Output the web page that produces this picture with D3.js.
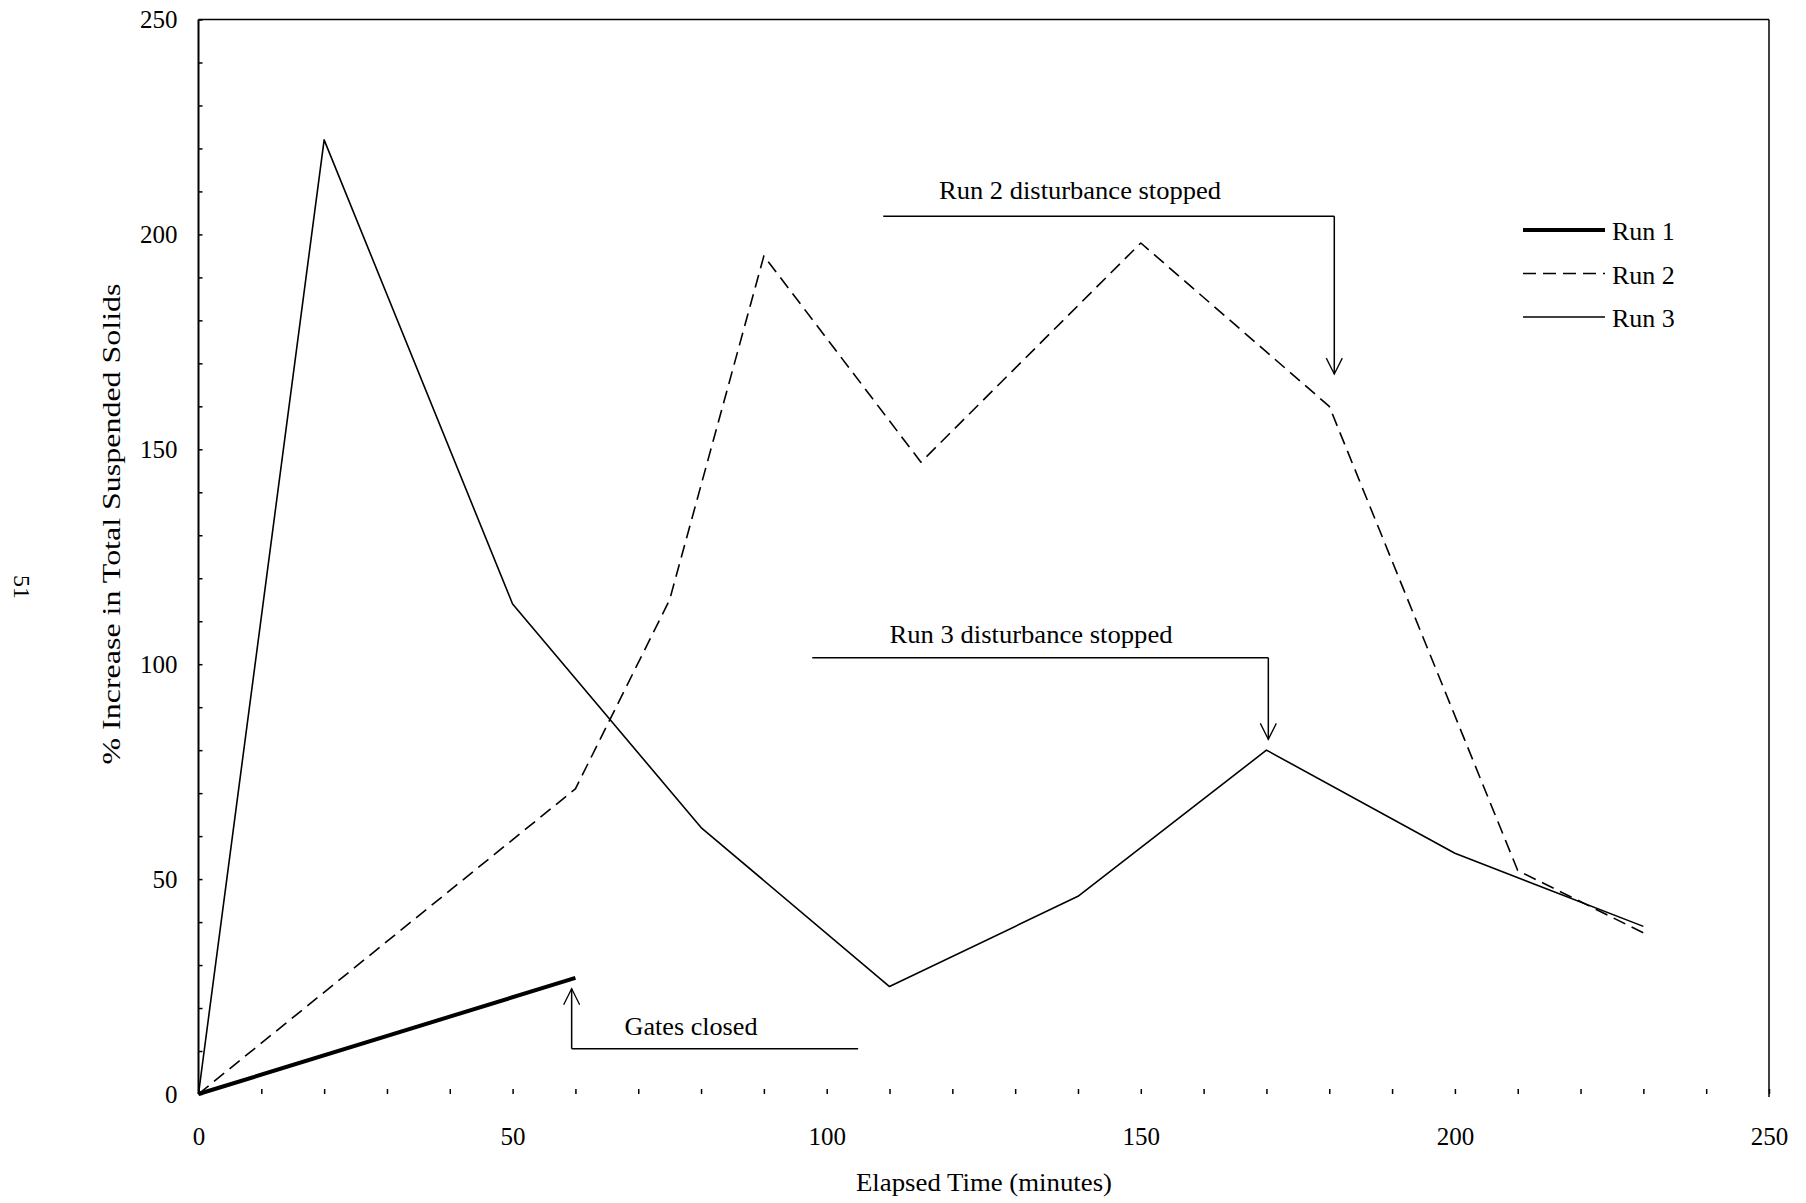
<!DOCTYPE html>
<html>
<head>
<meta charset="utf-8">
<script src="https://cdn.jsdelivr.net/npm/d3@7"></script>
<style>
  body { margin: 0; background: #fff; }
  svg text { font-family: "Liberation Serif", "Times New Roman", serif; fill: #000; }
</style>
</head>
<body>
<svg id="chart"></svg>
<script>
// Elapsed time (minutes) and % increase in TSS
const run1Time = [0, 60]
const run1Pct = [0, 27]

const run2Time = [0, 60, 75, 90, 115, 150, 180, 210, 230]
const run2Pct = [0, 71, 115, 195, 147, 198, 160, 52, 37.5]

const run3Time = [0, 20, 50, 80, 110, 140, 170, 200, 230]
const run3Pct = [0, 222, 114, 62, 25, 46, 80, 56, 39]

const seriesNames = ["Run 1", "Run 2", "Run 3"]
const xTickLabels = [0, 50, 100, 150, 200, 250]
const yTickLabels = [0, 50, 100, 150, 200, 250]

const width = 1806
const height = 1203

const svg = d3.select('#chart')
    .attr('width', width)
    .attr('height', height)

const x = d3.scaleLinear().domain([0, 250]).range([198.5, 1769])
const y = d3.scaleLinear().domain([0, 250]).range([1094, 19.5])

// frame: left, top, right (bottom line is not visible in the scan)
svg.append('line')
    .attr('x1', x(0)).attr('x2', x(0)).attr('y1', y(250)).attr('y2', y(0))
    .attr('stroke', '#000').attr('stroke-width', 2)
svg.append('line')
    .attr('x1', x(0)).attr('x2', x(250)).attr('y1', y(250)).attr('y2', y(250))
    .attr('stroke', '#000').attr('stroke-width', 1.5)
svg.append('line')
    .attr('x1', x(250)).attr('x2', x(250)).attr('y1', y(250)).attr('y2', y(0) + 3)
    .attr('stroke', '#000').attr('stroke-width', 1.5)

// axes
const xAxis = svg.append('g')
    .attr('transform', `translate(0,${y(0)})`)
    .call(d3.axisBottom(x)
        .tickValues(d3.range(0, 251, 10))
        .tickSize(-5)
        .tickPadding(33)
        .tickFormat(d => xTickLabels.includes(d) ? d : ''))
xAxis.select('.domain').remove()

const yAxis = svg.append('g')
    .attr('transform', `translate(${x(0)},0)`)
    .call(d3.axisLeft(y)
        .tickValues(d3.range(0, 251, 10))
        .tickSize(-4)
        .tickPadding(21)
        .tickFormat(d => yTickLabels.includes(d) ? d : ''))
yAxis.select('.domain').remove()

svg.selectAll('.tick line').attr('stroke', '#000').attr('stroke-width', 1.5)
svg.selectAll('.tick text').attr('font-size', 25).attr('fill', '#000')
    .style('font-family', '"Liberation Serif", "Times New Roman", serif')

// axis titles
svg.append('text')
    .attr('x', 984).attr('y', 1191)
    .attr('text-anchor', 'middle')
    .attr('font-size', 26)
    .attr('textLength', 256).attr('lengthAdjust', 'spacingAndGlyphs')
    .text('Elapsed Time (minutes)')

svg.append('text')
    .attr('transform', 'translate(120,524) rotate(-90)')
    .attr('text-anchor', 'middle')
    .attr('font-size', 26)
    .attr('textLength', 481).attr('lengthAdjust', 'spacingAndGlyphs')
    .text('% Increase in Total Suspended Solids')

// page number of the scanned report
svg.append('text')
    .attr('transform', 'translate(14,587) rotate(90)')
    .attr('text-anchor', 'middle')
    .attr('font-size', 24)
    .text('51')

// series lines
const line = d3.line().x(d => x(d[0])).y(d => y(d[1]))
const runs = [
    { name: seriesNames[0], pts: d3.zip(run1Time, run1Pct), w: 4, dash: null },
    { name: seriesNames[1], pts: d3.zip(run2Time, run2Pct), w: 1.6, dash: '13,7' },
    { name: seriesNames[2], pts: d3.zip(run3Time, run3Pct), w: 1.6, dash: null },
]

svg.selectAll('.run')
    .data(runs)
    .join('path')
    .attr('class', 'run')
    .attr('d', d => line(d.pts))
    .attr('fill', 'none')
    .attr('stroke', '#000')
    .attr('stroke-width', d => d.w)
    .attr('stroke-dasharray', d => d.dash)
    .attr('stroke-linejoin', 'round')

// legend
const legend = svg.append('g')
runs.forEach((r, i) => {
    const ly = 230 + i * 43.5
    legend.append('line')
        .attr('x1', 1523).attr('x2', 1605).attr('y1', ly).attr('y2', ly)
        .attr('stroke', '#000')
        .attr('stroke-width', r.w)
        .attr('stroke-dasharray', r.dash)
    legend.append('text')
        .attr('x', 1612).attr('y', ly + 10)
        .attr('font-size', 26)
        .text(r.name)
})

// annotations with open arrow heads
const arrowHead = (ax, ay, dir) => {
    // dir = 1 points down, -1 points up
    svg.append('path')
        .attr('d', `M${ax - 8},${ay - dir * 16} L${ax},${ay} L${ax + 8},${ay - dir * 16}`)
        .attr('fill', 'none').attr('stroke', '#000').attr('stroke-width', 1.3)
}

const annotate = (label, tx, ty, x1, x2, yLine, yTip, dir, textW) => {
    svg.append('text')
        .attr('x', tx).attr('y', ty)
        .attr('text-anchor', 'middle')
        .attr('font-size', 26)
        .attr('textLength', textW).attr('lengthAdjust', 'spacingAndGlyphs')
        .text(label)
    const xe = dir === 1 ? x2 : x1
    svg.append('path')
        .attr('d', `M${x1},${yLine} L${x2},${yLine} M${xe},${yLine} L${xe},${yTip}`)
        .attr('fill', 'none').attr('stroke', '#000').attr('stroke-width', 1.5)
    arrowHead(xe, yTip, dir)
}

annotate('Run 2 disturbance stopped', 1080, 199, x(109), x(180.8), y(204.2), y(167.5), 1, 282)
annotate('Run 3 disturbance stopped', 1031, 643, x(97.7), x(170.3), y(101.5), y(82.5), 1, 283)
annotate('Gates closed', 691, 1035, x(59.4), x(105), y(10.5), y(24.5), -1, 133)
</script>
</body>
</html>
